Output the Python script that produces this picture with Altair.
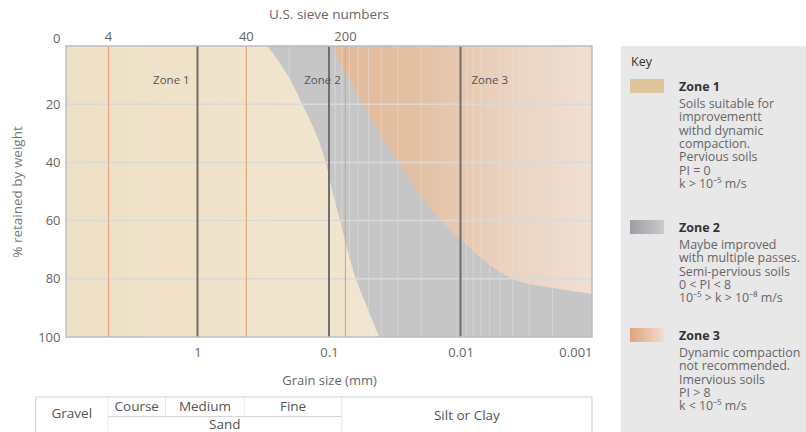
import math

import altair as alt
import pandas as pd

FONT = "Open Sans"

# ---------------------------------------------------------------- data
# grain size axis (mm) and % retained axis
size_ticks = [1, 0.1, 0.01, 0.001]
major_sizes = [1, 0.1, 0.01]
pct_ticks = [0, 20, 40, 60, 80, 100]
grid_pcts = [20, 40, 60, 80]
minor_sizes = [m * 10.0 ** e for e in (-3, -2, -1, 0) for m in range(2, 10)]

# U.S. sieve openings (mm) and their sieve numbers
sieve_sizes = [4.75, 0.425, 0.075]
sieve_labels = ["4", "40", "200"]

# Zone 1 / Zone 2 limit: grain size (mm) at each % retained
zone1_pct = [0, 5, 10, 20, 30, 40, 44.8, 50, 60, 70, 80, 90, 100]
zone1_size = [0.294, 0.244, 0.207, 0.160, 0.126, 0.106, 0.100, 0.0942,
              0.0825, 0.0724, 0.0626, 0.0510, 0.0416]

# Zone 2 / Zone 3 limit: % retained at each grain size (mm)
zone3_size = [0.096, 0.0724, 0.0551, 0.0293, 0.0141, 0.0100, 0.00622,
              0.00401, 0.00182, 0.001]
zone3_pct = [0, 10, 20, 40, 60, 66.4, 74.7, 80, 83.4, 85.1]

zone_names = ["Zone 1", "Zone 2", "Zone 3"]
zone_label_size = [1.58, 0.112, 0.0060]
zone_label_pct = [12, 12, 12]

key_notes = [
    ["Soils suitable for", "improvementt", "withd dynamic", "compaction.",
     "Pervious soils", "PI = 0", "k > 10\u207b\u2075 m/s"],
    ["Maybe improved", "with multiple passes.", "Semi-pervious soils",
     "0 < PI < 8", "10\u207b\u2075 > k > 10\u207b\u2078 m/s"],
    ["Dynamic compaction", "not recommended.", "Imervious soils",
     "PI > 8", "k < 10\u207b\u2075 m/s"],
]

# soil classification strip: class limits in mm
table_edges = [17, 4.8, 1.75, 0.44, 0.08, 0.001]
sand_parts = ["Course", "Medium", "Fine"]

# ---------------------------------------------------------------- layout
W, H = 526, 291
one = pd.DataFrame({"k": [0]})

xs = alt.Scale(type="log", domain=[0.001, 10], reverse=True, nice=False)
ys = alt.Scale(domain=[0, 100], reverse=True, nice=False, zero=False)

x_axis = alt.Axis(
    values=size_ticks, format="~g", grid=False, ticks=False, tickSize=0,
    domain=False, labelColor="#666", labelFontSize=13, labelPadding=15,
    labelBaseline="middle", labelFlush=True, title="Grain size (mm)",
    titleColor="#666", titleFontSize=13, titleFontWeight="normal",
    titleY=43, titleBaseline="middle",
)
y_axis = alt.Axis(
    values=pct_ticks, grid=False, ticks=False, tickSize=0, domain=False,
    labelColor="#666", labelFontSize=13, labelPadding=6,
    labelOffset={"condition": {"test": "datum.value == 0", "value": -8}, "value": 0},
    title="% retained by weight", titleColor="#777", titleFontSize=13.5,
    titleFontWeight="normal", titleX=-49, titleY=H / 2, titleAngle=270,
    titleAlign="center", titleBaseline="middle",
)


def X(f):
    return alt.X(f, type="quantitative", scale=xs, axis=x_axis)


def Y(f):
    return alt.Y(f, type="quantitative", scale=ys, axis=y_axis)


def grad(colors):
    n = len(colors) - 1
    return alt.LinearGradient(
        gradient="linear",
        stops=[alt.GradientStop(color=c, offset=i / n) for i, c in enumerate(colors)],
        x1=0, x2=1, y1=0, y2=0,
    )


# Zone 2 fills the whole grading field; the other zones sit on top of it
zone2 = alt.Chart(pd.DataFrame({"a": [10], "b": [0.001], "c": [0], "d": [100]})).mark_rect(
    fill="#c6c6c6"
).encode(x=X("a"), x2="b:Q", y=Y("c"), y2="d:Q")

zone1 = alt.Chart(
    pd.DataFrame({"pct": zone1_pct, "size": zone1_size, "edge": 10})
).mark_area(
    orient="horizontal", interpolate="monotone",
    fill=grad(["#efe0c4", "#f2e6d0"]),
).encode(y=Y("pct"), x=X("edge"), x2="size:Q")

zone3 = alt.Chart(
    pd.DataFrame({"size": zone3_size, "pct": zone3_pct, "top": 0})
).mark_area(
    orient="vertical", interpolate="monotone",
    fill=grad(["#e3ba99", "#e4c0a3", "#ead2bf", "#efdfd3"]),
).encode(x=X("size"), y=Y("pct"), y2="top:Q")

minor = alt.Chart(pd.DataFrame({"s": minor_sizes})).mark_rule(
    color="#e4e4e4", opacity=0.45, strokeWidth=1
).encode(x=X("s"), y=alt.value(0), y2=alt.value(H))

hgrid = alt.Chart(pd.DataFrame({"p": grid_pcts})).mark_rule(
    color="#d9d9d9", strokeWidth=1.5
).encode(y=Y("p"), x=alt.value(0), x2=alt.value(W))

sieve_df = pd.DataFrame({"size": sieve_sizes, "label": sieve_labels})
sieve_rules = alt.Chart(sieve_df).mark_rule(color="#e6a676", strokeWidth=1.2).encode(
    x=X("size"), y=alt.value(0), y2=alt.value(H)
)
sieve_text = alt.Chart(sieve_df).mark_text(
    fontSize=13, color="#666", baseline="middle"
).encode(x=X("size"), y=alt.value(-9), text="label:N")
sieve_title = alt.Chart(one).mark_text(
    fontSize=13.5, color="#666", baseline="middle"
).encode(x=alt.value(W / 2), y=alt.value(-31), text=alt.value("U.S. sieve numbers"))

major = alt.Chart(pd.DataFrame({"s": major_sizes})).mark_rule(
    color="#6f6f6f", strokeWidth=2
).encode(x=X("s"), y=alt.value(0), y2=alt.value(H))

frame = alt.Chart(one).mark_rect(
    filled=False, stroke="#bdbdbd", strokeWidth=1.5
).encode(x=alt.value(0), x2=alt.value(W), y=alt.value(0), y2=alt.value(H))

zone_text = alt.Chart(
    pd.DataFrame({"size": zone_label_size, "pct": zone_label_pct, "name": zone_names})
).mark_text(fontSize=11.5, color="#555", baseline="middle").encode(
    x=X("size"), y=Y("pct"), text="name:N"
)

# ---------------------------------------------------------------- key panel
key_layers = [
    alt.Chart(one).mark_rect(fill="#e8e8e8").encode(
        x=alt.value(555), x2=alt.value(760), y=alt.value(0), y2=alt.value(386)
    ),
    alt.Chart(one).mark_text(
        fontSize=12.5, color="#333", fontWeight=500, align="left", baseline="middle"
    ).encode(x=alt.value(565), y=alt.value(16), text=alt.value("Key")),
]
swatch_fills = [
    "#dfc59c",
    grad(["#9d9da5", "#cbcbcb"]),
    grad(["#e0a57b", "#f1dccd"]),
]
title_y = [41, 182, 290]
for name, notes, fill, ty in zip(zone_names, key_notes, swatch_fills, title_y):
    key_layers.append(
        alt.Chart(one).mark_rect(fill=fill).encode(
            x=alt.value(564), x2=alt.value(598), y=alt.value(ty - 8), y2=alt.value(ty + 6)
        )
    )
    key_layers.append(
        alt.Chart(one).mark_text(
            fontSize=12.5, color="#333", fontWeight="bold", align="left", baseline="middle"
        ).encode(x=alt.value(613), y=alt.value(ty), text=alt.value(name))
    )
    key_layers.append(
        alt.Chart(one).mark_text(
            fontSize=12.4, color="#666", align="left", baseline="top", lineHeight=13.33
        ).encode(x=alt.value(613), y=alt.value(ty + 11), text=alt.value(notes))
    )

# ---------------------------------------------------------------- soil classes strip
T_TOP, T_MID, T_BOT = 351, 370.5, 400
line_col = "#d6d6d6"
edges_outer = [table_edges[0], table_edges[-1]]
edges_inner = [table_edges[1], table_edges[4]]
edges_sand = [table_edges[2], table_edges[3]]


def centre(a, b):
    return math.sqrt(a * b)


table_layers = [
    alt.Chart(pd.DataFrame({"a": [table_edges[0]], "b": [table_edges[-1]]})).mark_rule(
        color=line_col, strokeWidth=1.2
    ).encode(x=X("a"), x2="b:Q", y=alt.value(T_TOP)),
    alt.Chart(pd.DataFrame({"a": [table_edges[1]], "b": [table_edges[4]]})).mark_rule(
        color=line_col, strokeWidth=1.2
    ).encode(x=X("a"), x2="b:Q", y=alt.value(T_MID)),
    alt.Chart(pd.DataFrame({"s": edges_outer})).mark_rule(
        color=line_col, strokeWidth=1.2
    ).encode(x=X("s"), y=alt.value(T_TOP), y2=alt.value(T_BOT)),
    alt.Chart(pd.DataFrame({"s": edges_inner})).mark_rule(
        color=line_col, strokeWidth=1, strokeDash=[1, 1]
    ).encode(x=X("s"), y=alt.value(T_TOP), y2=alt.value(T_BOT)),
    alt.Chart(pd.DataFrame({"s": edges_sand})).mark_rule(
        color=line_col, strokeWidth=1, strokeDash=[1, 1]
    ).encode(x=X("s"), y=alt.value(T_TOP), y2=alt.value(T_MID)),
]

sand_centres = [centre(table_edges[i + 1], table_edges[i + 2]) for i in range(3)]
cell_text = dict(fontSize=13.5, color="#555", baseline="middle")
table_layers += [
    alt.Chart(pd.DataFrame({"s": sand_centres, "t": sand_parts})).mark_text(**cell_text).encode(
        x=X("s"), y=alt.value(361), text="t:N"
    ),
    alt.Chart(pd.DataFrame({"s": [centre(table_edges[0], table_edges[1])], "t": ["Gravel"]}))
    .mark_text(**cell_text).encode(x=X("s"), y=alt.value(368), text="t:N"),
    alt.Chart(pd.DataFrame({"s": [centre(table_edges[1], table_edges[4])], "t": ["Sand"]}))
    .mark_text(**cell_text).encode(x=X("s"), y=alt.value(379), text="t:N"),
    alt.Chart(pd.DataFrame({"s": [centre(table_edges[4], table_edges[5])], "t": ["Silt or Clay"]}))
    .mark_text(**cell_text).encode(x=X("s"), y=alt.value(370), text="t:N"),
]

chart = alt.layer(
    zone2, zone1, zone3, minor, hgrid, sieve_rules, major, frame,
    zone_text, sieve_text, sieve_title, *key_layers, *table_layers,
).properties(
    width=W,
    height=H,
    autosize=alt.AutoSizeParams(type="none"),
    padding={"left": 66, "top": 46, "right": 806 - 66 - W, "bottom": 432 - 46 - H},
    background="white",
).configure(font=FONT).configure_view(strokeWidth=0)

chart.save("out.html", embed_options={"renderer": "svg", "actions": False})
